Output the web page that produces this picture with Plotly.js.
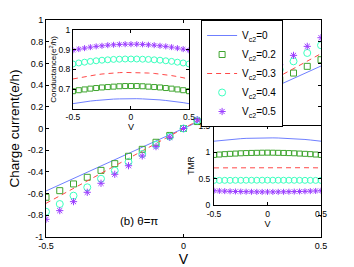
<!DOCTYPE html>
<html>
<head>
<meta charset="utf-8">
<script src="https://cdn.plot.ly/plotly-3.0.1.min.js"></script>
<style>html,body{margin:0;padding:0;background:#fff;}#chart{width:354px;height:267px;}</style>
</head>
<body>
<div id="chart"></div>
<script>
// Bias voltage samples (V)
var V = [-0.5,-0.45,-0.4,-0.35,-0.3,-0.25,-0.2,-0.15,-0.1,-0.05,0,0.05,0.1,0.15,0.2,0.25,0.3,0.35,0.4,0.45,0.5];
var seriesNames = ["V<sub>c2</sub>=0","V<sub>c2</sub>=0.2","V<sub>c2</sub>=0.3","V<sub>c2</sub>=0.4","V<sub>c2</sub>=0.5"];

// Main panel: charge current (e/h)
var cur0  = [-0.576,-0.519,-0.462,-0.405,-0.347,-0.29,-0.232,-0.174,-0.116,-0.058,0,0.058,0.116,0.174,0.232,0.29,0.347,0.405,0.462,0.519,0.576];
var cur02 = [-0.634,-0.573,-0.511,-0.45,-0.386,-0.324,-0.256,-0.192,-0.127,-0.064,0,0.064,0.127,0.192,0.256,0.324,0.386,0.45,0.511,0.573,0.634];
var cur03 = [-0.69,-0.621,-0.552,-0.483,-0.414,-0.345,-0.276,-0.207,-0.138,-0.069,0,0.069,0.138,0.207,0.276,0.345,0.414,0.483,0.552,0.621,0.69];
var cur04 = [-0.767,-0.696,-0.619,-0.542,-0.463,-0.389,-0.309,-0.235,-0.152,-0.075,0,0.075,0.152,0.235,0.309,0.389,0.463,0.542,0.619,0.696,0.767];
var cur05 = [-0.837,-0.757,-0.674,-0.588,-0.505,-0.422,-0.343,-0.253,-0.167,-0.081,0,0.081,0.167,0.253,0.343,0.422,0.505,0.588,0.674,0.757,0.837];

// Inset 1: conductance (e^2/h)
var g0  = [0.627,0.632,0.636,0.640,0.643,0.646,0.648,0.650,0.651,0.652,0.652,0.652,0.651,0.650,0.648,0.646,0.643,0.640,0.636,0.632,0.627];
var g02 = [0.690,0.695,0.699,0.703,0.706,0.709,0.711,0.713,0.715,0.716,0.716,0.716,0.715,0.713,0.711,0.709,0.706,0.703,0.699,0.695,0.690];
var g03 = [0.752,0.758,0.764,0.769,0.773,0.777,0.780,0.782,0.784,0.785,0.785,0.785,0.784,0.782,0.780,0.777,0.773,0.769,0.764,0.758,0.752];
var g04 = [0.828,0.833,0.837,0.841,0.844,0.847,0.849,0.851,0.852,0.853,0.853,0.853,0.852,0.851,0.849,0.847,0.844,0.841,0.837,0.833,0.828];
var g05 = [0.897,0.903,0.908,0.913,0.917,0.920,0.923,0.925,0.927,0.928,0.928,0.928,0.927,0.925,0.923,0.920,0.917,0.913,0.908,0.903,0.897];

// Inset 2: TMR
var t0  = [1.210,1.222,1.233,1.243,1.251,1.258,1.264,1.268,1.271,1.273,1.274,1.273,1.271,1.268,1.264,1.258,1.251,1.243,1.233,1.222,1.210];
var t02 = [0.950,0.958,0.965,0.971,0.976,0.981,0.985,0.988,0.990,0.992,0.993,0.992,0.990,0.988,0.985,0.981,0.976,0.971,0.965,0.958,0.950];
var t03 = [0.705,0.706,0.707,0.708,0.709,0.710,0.711,0.712,0.712,0.713,0.713,0.713,0.712,0.712,0.711,0.710,0.709,0.708,0.707,0.706,0.705];
var t04 = [0.468,0.468,0.469,0.469,0.470,0.470,0.471,0.471,0.471,0.472,0.472,0.472,0.471,0.471,0.471,0.470,0.470,0.469,0.469,0.468,0.468];
var t05 = [0.272,0.268,0.264,0.261,0.258,0.256,0.254,0.252,0.251,0.250,0.250,0.250,0.251,0.252,0.254,0.256,0.258,0.261,0.264,0.268,0.272];

// Tick labels
var mainYTicks = [-1,-0.8,-0.6,-0.4,-0.2,0,0.2,0.4,0.6,0.8,1];
var mainYText  = ["-1","-0.8","-0.6","-0.4","-0.2","0","0.2","0.4","0.6","0.8","1"];
var vTicks = [-0.5,0,0.5];
var vText  = ["-0.5","0","0.5"];
var gTicks = [0.7,0.8,0.9,1];
var gText  = ["0.7","0.8","0.9","1"];
var tmrTicks = [0,0.5,1,1.5];
var tmrText  = ["0","0.5","1","1.5"];

var cBlue = "#6f7fff", cGreen = "#3fa52f", cRed = "#ff4848", cCyan = "#3dffc0", cPurple = "#9b3dff";

function lineTr(y, xa, ya, color, dash, show, name) {
  return {x: V, y: y, xaxis: xa, yaxis: ya, type: "scatter", mode: "lines",
    line: {color: color, width: 1, dash: dash}, showlegend: show, name: name, hoverinfo: "skip"};
}
function markTr(y, xa, ya, color, symbol, size, show, name) {
  return {x: V, y: y, xaxis: xa, yaxis: ya, type: "scatter", mode: "markers",
    marker: {color: color, symbol: symbol, size: size, line: {color: color, width: 1}},
    showlegend: show, name: name, hoverinfo: "skip"};
}

var data = [
  lineTr(cur0, "x", "y", cBlue, "solid", true, seriesNames[0]),
  markTr(cur02, "x", "y", cGreen, "square-open", 6, true, seriesNames[1]),
  lineTr(cur03, "x", "y", cRed, "5px,4px", true, seriesNames[2]),
  markTr(cur04, "x", "y", cCyan, "circle-open", 7, true, seriesNames[3]),
  markTr(cur05, "x", "y", cPurple, "asterisk-open", 6, true, seriesNames[4]),

  lineTr(g0, "x2", "y2", cBlue, "solid", false, seriesNames[0]),
  markTr(g02, "x2", "y2", cGreen, "square-open", 5, false, seriesNames[1]),
  lineTr(g03, "x2", "y2", cRed, "5px,4px", false, seriesNames[2]),
  markTr(g04, "x2", "y2", cCyan, "circle-open", 6, false, seriesNames[3]),
  markTr(g05, "x2", "y2", cPurple, "asterisk-open", 5, false, seriesNames[4]),

  lineTr(t0, "x3", "y3", cBlue, "solid", false, seriesNames[0]),
  markTr(t02, "x3", "y3", cGreen, "square-open", 5, false, seriesNames[1]),
  lineTr(t03, "x3", "y3", cRed, "5px,4px", false, seriesNames[2]),
  markTr(t04, "x3", "y3", cCyan, "circle-open", 6, false, seriesNames[3]),
  markTr(t05, "x3", "y3", cPurple, "asterisk-open", 5, false, seriesNames[4])
];

var F = "Liberation Sans, Arial, sans-serif";
function axisBase() {
  return {showline: true, linecolor: "#000", linewidth: 1, mirror: "ticks", ticks: "inside",
    ticklen: 3, tickcolor: "#000", showgrid: false, zeroline: false, fixedrange: true};
}

var layout = {
  width: 354, height: 267,
  margin: {l: 46, r: 33, t: 20, b: 30},
  paper_bgcolor: "#fff", plot_bgcolor: "#fff",
  font: {family: F, color: "#000"},
  showlegend: true,
  legend: {x: 0.564, y: 1.0, xanchor: "left", yanchor: "top", bgcolor: "#fff",
    bordercolor: "#000", borderwidth: 1, font: {size: 10, family: F},
    tracegroupgap: 0, itemwidth: 30},
  xaxis: Object.assign(axisBase(), {range: [-0.5, 0.5], tickvals: vTicks, ticktext: vText,
    tickfont: {size: 9}, domain: [0, 1], anchor: "y",
    title: {text: "V", font: {size: 14}, standoff: 2}}),
  yaxis: Object.assign(axisBase(), {range: [-1, 1], tickvals: mainYTicks, ticktext: mainYText,
    tickfont: {size: 9}, domain: [0, 1], anchor: "x",
    title: {text: "Charge current(e/h)", font: {size: 13.5}, standoff: 4}}),
  xaxis2: Object.assign(axisBase(), {range: [-0.5, 0.5], tickvals: vTicks, ticktext: vText,
    tickfont: {size: 8.5}, domain: [0.098, 0.52], anchor: "y2",
    title: {text: "V", font: {size: 9}, standoff: 1}}),
  yaxis2: Object.assign(axisBase(), {range: [0.6, 1], tickvals: gTicks, ticktext: gText,
    tickfont: {size: 8.5}, domain: [0.59, 0.954], anchor: "x2",
    title: {text: "Conductance(e<sup>2</sup>/h)", font: {size: 8}, standoff: 0}}),
  xaxis3: Object.assign(axisBase(), {range: [-0.5, 0.5], tickvals: vTicks, ticktext: vText,
    tickfont: {size: 8.5}, domain: [0.611, 1.0], anchor: "y3", ticklabelstandoff: 1,
    title: {text: "V", font: {size: 9}, standoff: 1}}),
  yaxis3: Object.assign(axisBase(), {range: [0, 1.5], tickvals: tmrTicks, ticktext: tmrText,
    tickfont: {size: 8.5}, domain: [0.147, 0.512], anchor: "x3", ticklabelstandoff: 1,
    title: {text: "TMR", font: {size: 8.5}, standoff: 2}}),
  annotations: [
    {text: "(b) θ=π", xref: "paper", yref: "paper", x: 0.338, y: 0.075,
     xanchor: "center", yanchor: "middle", showarrow: false, font: {size: 11.5, family: F}}
  ]
};

Plotly.newPlot("chart", data, layout, {staticPlot: true, displayModeBar: false});
</script>
</body>
</html>
